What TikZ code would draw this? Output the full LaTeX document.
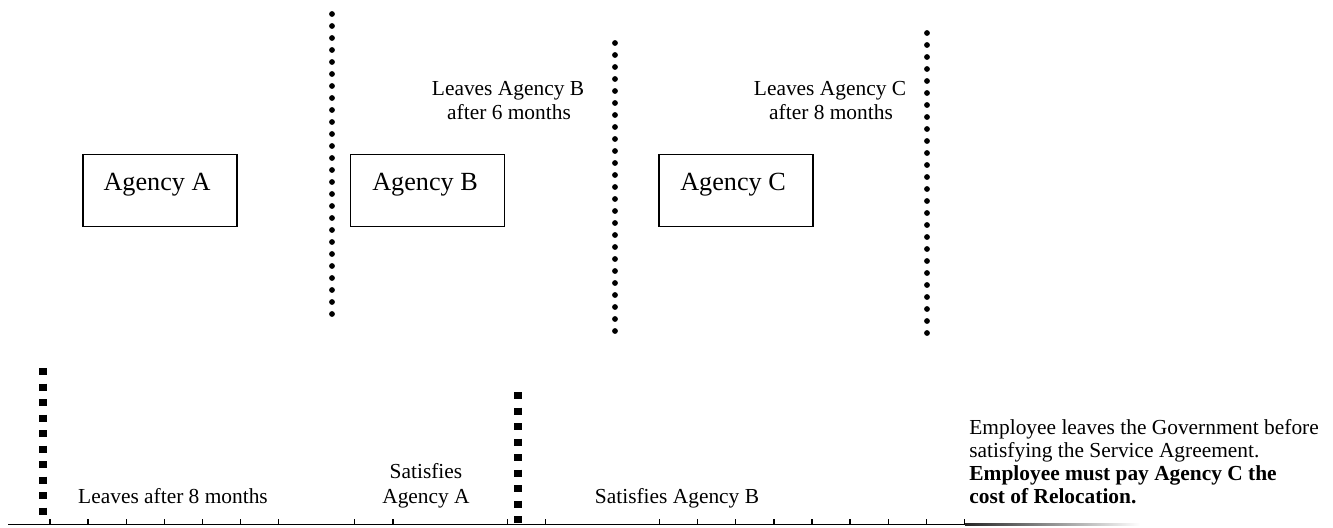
\documentclass[tikz,border=0pt]{standalone}
\usepackage{fontspec}
\setmainfont{Liberation Serif}
\begin{document}
\begin{tikzpicture}[x=0.5pt,y=-0.5pt,
  box/.style={draw, line width=0.75pt, minimum width=77pt, minimum height=36pt, inner sep=0pt},
  boxtext/.style={font=\fontsize{13.1}{15}\selectfont, anchor=base, inner sep=0pt},
  lbl/.style={font=\fontsize{10.7}{12.5}\selectfont, anchor=base, inner sep=0pt},
  lblw/.style={font=\fontsize{10.7}{12.5}\selectfont, anchor=base west, inner sep=0pt},
  rounddots/.style={line width=2.9pt, line cap=round, dash pattern=on 0pt off 6pt},
  squaredots/.style={line width=3.6pt, dash pattern=on 3.6pt off 4.15pt},
  tickmark/.style={line width=0.65pt},
  axis/.style={line width=0.9pt}]
\useasboundingbox (0,0) rectangle (1333,527);

% agency boxes
\node[box] (boxA) at (160,190.5) {};
\node[box] (boxB) at (427.5,190.5) {};
\node[box] (boxC) at (736,190.5) {};
\node[boxtext] (tA) at (157,190) {Agency A};
\node[boxtext] (tB) at (425,190) {Agency B};
\node[boxtext] (tC) at (733,190) {Agency C};

% round-dotted separators (top)
\coordinate (d1t) at (332,14);  \coordinate (d1b) at (332,318);
\coordinate (d2t) at (615,43);  \coordinate (d2b) at (615,335);
\coordinate (d3t) at (927,33);  \coordinate (d3b) at (927,334);
\draw[rounddots] (d1t) -- (d1b);
\draw[rounddots] (d2t) -- (d2b);
\draw[rounddots] (d3t) -- (d3b);

% top labels
\node[lbl] (lb1) at (508,95) {Leaves Agency B};
\node[lbl] (lb2) at (509,119) {after 6 months};
\node[lbl] (lc1) at (830,95) {Leaves Agency C};
\node[lbl] (lc2) at (831,119) {after 8 months};

% time axis
\coordinate (ax0) at (8,524.5);
\coordinate (ax1) at (965,524.5);
\draw[axis] (ax0) -- (ax1);
\shade[left color=black!85, right color=white] (965,523.6) rectangle (1140,525.4);
\foreach \i in {0,1,2,3,4,5,6,8,9,12,13,16,17,18,19,20,21,22,23,24}{
  \draw[tickmark] ({50+38.1*\i},519) -- ({50+38.1*\i},524.5);
}

% square-dotted markers (bottom)
\coordinate (s1t) at (43,368);  \coordinate (s1b) at (43,522);
\coordinate (s2t) at (518,392); \coordinate (s2b) at (518,527);
\draw[squaredots] (s1t) -- (s1b);
\draw[squaredots] (s2t) -- (s2b);

% bottom labels
\node[lbl] (l8) at (173,503) {Leaves after 8 months};
\node[lbl] (sa1) at (426,478) {Satisfies};
\node[lbl] (sa2) at (426,503) {Agency A};
\node[lbl] (sb) at (677,503) {Satisfies Agency B};
\node[lblw] (r1) at (969,434) {Employee leaves the Government before};
\node[lblw] (r2) at (969,457) {satisfying the Service Agreement.};
\node[lblw] (r3) at (969,480) {\bfseries Employee must pay Agency C the};
\node[lblw] (r4) at (969,503) {\bfseries cost of Relocation.};
\end{tikzpicture}
\end{document}
